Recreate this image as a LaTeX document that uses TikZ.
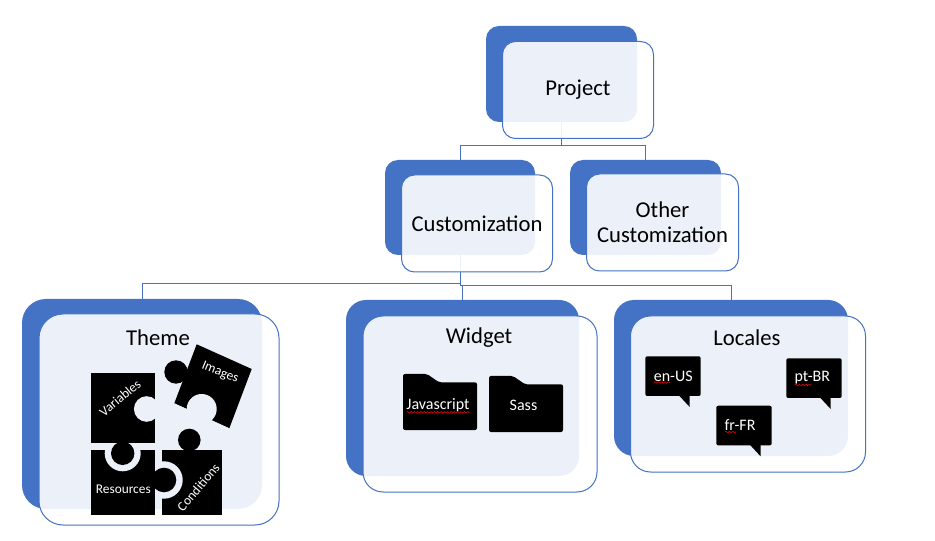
\documentclass[tikz,border=0pt]{standalone}
\usepackage{fontspec}
\setmainfont{Carlito}
\usetikzlibrary{decorations.pathmorphing}
\definecolor{boxblue}{HTML}{4472C4}
\definecolor{panelbg}{HTML}{ECF1F9}
\tikzset{
  boxsize/.style n args={3}{minimum width=#1*0.75pt,minimum height=#2*0.75pt,rounded corners=#3*0.75pt},
  backbox/.style={fill=boxblue,inner sep=0pt},
  frontbox/.style={draw=boxblue,line width=0.75pt,fill=white,fill opacity=0.9,text opacity=1,inner sep=0pt,align=center,
    font=\fontsize{17}{19}\selectfont},
  boxtext/.style={font=\fontsize{17}{19}\selectfont,inner sep=0pt},
  smalltext/.style={text=white,font=\fontsize{10}{11}\selectfont,inner sep=0pt},
  bubbletext/.style={text=white,font=\fontsize{12}{14}\selectfont,inner sep=0pt},
  link/.style={draw=boxblue,line width=0.75pt},
  gap/.style={fill=panelbg},
  squiggle/.style={draw=red!85!black,line width=0.5pt,decorate,decoration={snake,amplitude=0.6pt,segment length=2.5pt}},
  folderpic/.pic={\fill[rounded corners=1.5pt] (0,0) -- (24,0) -- (36,8.3) -- (74,8.3) -- (74,56) -- (0,56) -- cycle;},
  bubblepic/.pic={\fill[rounded corners=1.5pt] (0,0) rectangle (55.4,39.7);
    \fill (34,39.5) -- (44.4,50.7) -- (44.4,39.5) -- cycle;}
}
\begin{document}
\begin{tikzpicture}[x=0.75pt,y=-0.75pt]
\useasboundingbox (0,0) rectangle (935,541);
% back boxes
\node[backbox,boxsize={151}{96}{13}] (projectback) at (561.5,74) {};
\node[backbox,boxsize={150}{95}{13}] (customback) at (460,207.5) {};
\node[backbox,boxsize={151}{95}{13}] (otherback) at (645.5,207.5) {};
\node[backbox,boxsize={240}{210}{24}] (themeback) at (142,404) {};
\node[backbox,boxsize={233}{176}{20}] (widgetback) at (462.5,388) {};
\node[backbox,boxsize={234}{156}{20}] (localesback) at (731,378) {};
% connectors
\draw[link] (projectback.south) -- ++(0,23) -| (customback.north);
\draw[link] (projectback.south) -- ++(0,23) -| (otherback.north);
\draw[link] (customback.south) -- ++(0,28.5) -| (themeback.north);
\draw[link] (customback.south) -- ++(0,30.5) -| (widgetback.north);
\draw[link] (customback.south) -- ++(0,30.5) -| (localesback.north);
% front boxes
\node[frontbox,boxsize={151}{97}{13}] (projectfront) at ([shift={(16.5,16)}]projectback) {Project};
\node[frontbox,boxsize={151}{97}{13}] (customfront) at ([shift={(17,16)}]customback) {Customization};
\node[frontbox,boxsize={152}{97}{13}] (otherfront) at ([shift={(17,15)}]otherback) {Other\\Customization};
\node[frontbox,boxsize={240}{211}{24}] (themefront) at ([shift={(17,15.5)}]themeback) {};
\node[frontbox,boxsize={234}{176}{20}] (widgetfront) at ([shift={(17.5,16)}]widgetback) {};
\node[frontbox,boxsize={235}{156}{20}] (localesfront) at ([shift={(17,16)}]localesback) {};
\node[boxtext] (themelabel) at (158,338) {Theme};
\node[boxtext] (widgetlabel) at (479,338) {Widget};
\node[boxtext] (localeslabel) at (747,338) {Locales};
% puzzle pieces
\fill (161.7,450.3) rectangle (221.7,515.3);
\fill (189.3,440) circle (11.3);
\fill[gap] (164,480) circle (18.7);
\fill (90.7,450.3) rectangle (155,515.3);
\fill[gap] (122.7,453.3) circle (18);
\fill (90.7,373.3) rectangle (155,443.3);
\fill[gap] (146.7,409) circle (12.8);
\fill (122.7,453.3) circle (11.7);
\fill (164,480) circle (12.3);
\fill (196.7,344.3) -- (251.7,369) -- (229.3,428.3) -- (174.3,403.3) -- cycle;
\fill (176,372) circle (11.7);
\fill[gap] (201.7,409) circle (15);
\fill[gap] (186,420) -- (229,431) -- (229.3,428.3) -- (174.3,403.3) -- cycle;
\node[smalltext,rotate=40] (variables) at (120,398) {Variables};
\node[smalltext,rotate=-22] (images) at (220,372.7) {Images};
\node[smalltext] (resources) at (123.3,489) {Resources};
\node[smalltext,rotate=50] (conditions) at (198.3,487.3) {Conditions};
% folders
\pic at (403,374) {folderpic};
\pic at (489,376) {folderpic};
\node[bubbletext] (javascript) at (438,405) {Javascript};
\node[bubbletext] (sass) at (523.5,405) {Sass};
\draw[squiggle] (406.7,412.3) -- (470,412.3);
% speech bubbles
\pic at (645.3,356.3) {bubblepic};
\pic at (786.3,358.3) {bubblepic};
\pic at (716.3,405.7) {bubblepic};
\node[bubbletext] (enus) at (673.3,376) {en-US};
\node[bubbletext] (ptbr) at (812.3,378) {pt-BR};
\node[bubbletext] (frfr) at (740,425) {fr-FR};
\draw[squiggle] (654,382.5) -- (670,382.5);
\draw[squiggle] (795,385) -- (811,385);
\draw[squiggle] (725,432) -- (736,432);
\end{tikzpicture}
\end{document}
